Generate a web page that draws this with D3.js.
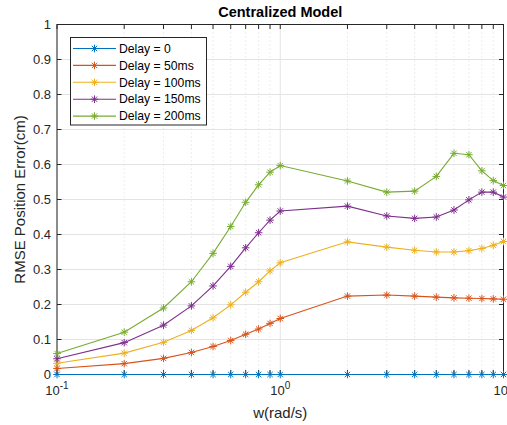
<!DOCTYPE html>
<html>
<head>
<meta charset="utf-8">
<script src="https://cdn.jsdelivr.net/npm/d3@7"></script>
<style>
  html, body { margin: 0; padding: 0; background: #fff; }
  svg { display: block; font-family: "Liberation Sans", Arial, Helvetica, sans-serif; }
</style>
</head>
<body>
<svg id="chart" width="507" height="425"></svg>
<script>
// Angular frequency samples (rad/s)
const freqs = [0.1, 0.2, 0.3, 0.4, 0.5, 0.6, 0.7, 0.8, 0.9, 1, 2, 3, 4, 5, 6, 7, 8, 9, 10];

// RMSE position error (cm) for each communication delay
const delay0   = [0, 0, 0, 0, 0, 0, 0, 0, 0, 0, 0, 0, 0, 0, 0, 0, 0, 0, 0];
const delay50  = [0.017, 0.031, 0.046, 0.063, 0.080, 0.097, 0.115, 0.130, 0.146, 0.160, 0.224, 0.227, 0.224, 0.221, 0.219, 0.218, 0.217, 0.216, 0.215];
const delay100 = [0.032, 0.061, 0.092, 0.126, 0.162, 0.199, 0.235, 0.265, 0.296, 0.319, 0.379, 0.364, 0.355, 0.350, 0.350, 0.354, 0.360, 0.369, 0.380];
const delay150 = [0.045, 0.091, 0.141, 0.196, 0.253, 0.309, 0.362, 0.405, 0.441, 0.467, 0.481, 0.453, 0.446, 0.450, 0.470, 0.499, 0.521, 0.521, 0.507];
const delay200 = [0.060, 0.121, 0.190, 0.265, 0.346, 0.423, 0.492, 0.542, 0.578, 0.597, 0.553, 0.521, 0.524, 0.566, 0.632, 0.628, 0.582, 0.554, 0.540];

const seriesNames  = ["Delay = 0", "Delay = 50ms", "Delay = 100ms", "Delay = 150ms", "Delay = 200ms"];
const seriesValues = [delay0, delay50, delay100, delay150, delay200];
const seriesColors = ["#0072BD", "#D95319", "#EDB120", "#7E2F8E", "#77AC30"];

const yTicks = [0, 0.1, 0.2, 0.3, 0.4, 0.5, 0.6, 0.7, 0.8, 0.9, 1];
const yTickLabels = ["0", "0.1", "0.2", "0.3", "0.4", "0.5", "0.6", "0.7", "0.8", "0.9", "1"];
const xMajorTicks = [0.1, 1, 10];
const xMajorExponents = ["-1", "0", "1"];
const xMinorTicks = [0.2, 0.3, 0.4, 0.5, 0.6, 0.7, 0.8, 0.9, 2, 3, 4, 5, 6, 7, 8, 9];

const svg = d3.select("#chart");
const axisColor = "#262626";
const gridColor = "#e3e3e3";

const plot = { left: 57, right: 503.5, top: 24.5, bottom: 374.5 };

const x = d3.scaleLog().domain([0.1, 10]).range([plot.left, plot.right]);
const y = d3.scaleLinear().domain([0, 1]).range([plot.bottom, plot.top]);

// Grid: solid major lines, dotted minor lines on the log axis
const grid = svg.append("g");
grid.selectAll(".ygrid").data(yTicks).join("line")
  .attr("x1", plot.left).attr("x2", plot.right)
  .attr("y1", d => y(d)).attr("y2", d => y(d))
  .attr("stroke", gridColor).attr("stroke-width", 1);
grid.selectAll(".xminor").data(xMinorTicks).join("line")
  .attr("x1", d => x(d)).attr("x2", d => x(d))
  .attr("y1", plot.top).attr("y2", plot.bottom)
  .attr("stroke", "#d6d6d6").attr("stroke-width", 0.8)
  .attr("stroke-dasharray", "1,3");
grid.selectAll(".xmajor").data(xMajorTicks).join("line")
  .attr("x1", d => x(d)).attr("x2", d => x(d))
  .attr("y1", plot.top).attr("y2", plot.bottom)
  .attr("stroke", gridColor).attr("stroke-width", 1);

// Axes box
const axes = svg.append("g");
axes.append("rect")
  .attr("x", plot.left).attr("y", plot.top)
  .attr("width", plot.right - plot.left).attr("height", plot.bottom - plot.top)
  .attr("fill", "none").attr("stroke", axisColor).attr("stroke-width", 1);

// Inward tick marks
const tl = 4.5;
axes.selectAll(".yt").data(yTicks).join("path")
  .attr("d", d => `M${plot.left},${y(d)}h${tl}M${plot.right},${y(d)}h${-tl}`)
  .attr("stroke", axisColor).attr("stroke-width", 1);
axes.selectAll(".xt").data(xMajorTicks.concat(xMinorTicks)).join("path")
  .attr("d", d => `M${x(d)},${plot.bottom}v${-tl}M${x(d)},${plot.top}v${tl}`)
  .attr("stroke", axisColor).attr("stroke-width", 1);

// Y tick labels
axes.selectAll(".yl").data(yTicks).join("text")
  .attr("x", plot.left - 6).attr("y", d => y(d))
  .attr("dy", "0.35em")
  .attr("text-anchor", "end")
  .attr("font-size", 13)
  .attr("fill", axisColor)
  .text((d, i) => yTickLabels[i]);

// X tick labels as powers of ten
xMajorTicks.forEach((t, i) => {
  const txt = axes.append("text")
    .attr("x", x(t)).attr("y", 395)
    .attr("text-anchor", "middle")
    .attr("font-size", 13)
    .attr("fill", axisColor);
  txt.append("tspan").text("10");
  txt.append("tspan").attr("dy", -6).attr("font-size", 10).text(xMajorExponents[i]);
});

// Asterisk marker path
function asterisk(r) {
  const d = r * Math.SQRT1_2;
  return `M0,${-r}V${r}M${-r},0H${r}M${-d},${-d}L${d},${d}M${-d},${d}L${d},${-d}`;
}

const line = d3.line().x(d => x(d[0])).y(d => y(d[1]));

// Series lines and markers, drawn above the axes like MATLAB does
seriesValues.forEach((vals, i) => {
  const pts = freqs.map((f, j) => [f, vals[j]]);
  const g = svg.append("g");
  g.append("path")
    .attr("d", line(pts))
    .attr("fill", "none")
    .attr("stroke", seriesColors[i])
    .attr("stroke-width", 1.1);
  g.selectAll("path.m").data(pts).join("path")
    .attr("class", "m")
    .attr("transform", d => `translate(${x(d[0])},${y(d[1])})`)
    .attr("d", asterisk(3.8))
    .attr("fill", "none")
    .attr("stroke", seriesColors[i])
    .attr("stroke-width", 1);
});

// Title and axis labels
svg.append("text")
  .attr("x", (plot.left + plot.right) / 2).attr("y", 17)
  .attr("text-anchor", "middle")
  .attr("font-size", 14.5).attr("font-weight", "bold")
  .attr("fill", "#000")
  .text("Centralized Model");
svg.append("text")
  .attr("x", (plot.left + plot.right) / 2).attr("y", 418)
  .attr("text-anchor", "middle")
  .attr("font-size", 15)
  .attr("fill", axisColor)
  .text("w(rad/s)");
svg.append("text")
  .attr("transform", `translate(25,${(plot.top + plot.bottom) / 2}) rotate(-90)`)
  .attr("text-anchor", "middle")
  .attr("font-size", 15)
  .attr("fill", axisColor)
  .text("RMSE Position Error(cm)");

// Legend
const leg = svg.append("g");
const legBox = { x: 70.5, y: 37.5, w: 136, h: 87.5 };
leg.append("rect")
  .attr("x", legBox.x).attr("y", legBox.y)
  .attr("width", legBox.w).attr("height", legBox.h)
  .attr("fill", "#fff").attr("stroke", axisColor).attr("stroke-width", 1);
seriesNames.forEach((name, i) => {
  const ly = 48.5 + i * 16.9;
  leg.append("line")
    .attr("x1", 73).attr("x2", 116).attr("y1", ly).attr("y2", ly)
    .attr("stroke", seriesColors[i]).attr("stroke-width", 1.1);
  leg.append("path")
    .attr("transform", `translate(94.5,${ly})`)
    .attr("d", asterisk(3.8))
    .attr("fill", "none").attr("stroke", seriesColors[i]).attr("stroke-width", 1);
  leg.append("text")
    .attr("x", 119).attr("y", ly).attr("dy", "0.35em")
    .attr("font-size", 12.2).attr("fill", "#000")
    .text(name);
});
</script>
</body>
</html>
